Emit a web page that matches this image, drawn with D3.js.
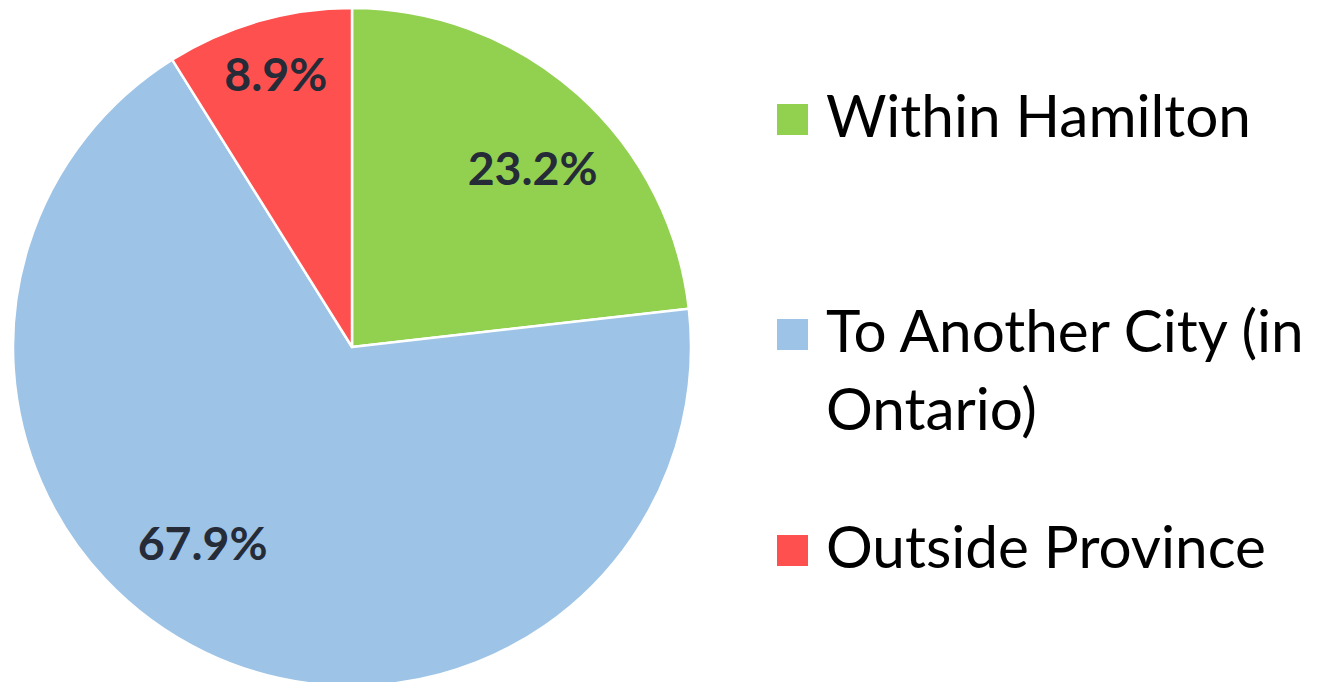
<!DOCTYPE html>
<html><head><meta charset="utf-8">
<script src="https://cdn.jsdelivr.net/npm/d3@7"></script>
<style>html,body{margin:0;padding:0;background:#fff;}svg{display:block;}</style>
</head><body>
<svg id="chart" width="1323" height="682"></svg>
<script>
const categories = ["Within Hamilton", "To Another City (in Ontario)", "Outside Province"];
const values = [23.2, 67.9, 8.9];
const labels = ["23.2%", "67.9%", "8.9%"];
const legendLines = [["Within Hamilton"], ["To Another City (in", "Ontario)"], ["Outside Province"]];
const colors = ["#92D050", "#9DC3E6", "#FF5050"];

const svg = d3.select("#chart");
const cx = 352, cy = 347, R = 339;
const fontFam = "Lato, 'Open Sans', sans-serif";

const pie = d3.pie().sort(null).value(d => d)(values);
const arc = d3.arc().innerRadius(0).outerRadius(R);
const g = svg.append("g").attr("transform", `translate(${cx},${cy})`);
g.selectAll("path").data(pie).join("path")
  .attr("d", arc)
  .attr("fill", (d, i) => colors[i])
  .attr("stroke", "#fff").attr("stroke-width", 2.5).attr("stroke-linejoin", "round");

// label placement (layout): angle offset from slice mid (deg) and radius
const labelPlace = [[3.8, 253], [11.3, 248], [0.3, 281]];
const lab = g.selectAll("text.lab").data(pie).join("text").attr("class", "lab")
  .attr("text-anchor", "middle")
  .attr("dy", "0.35em")
  .attr("font-family", fontFam).attr("font-weight", "bold")
  .attr("font-size", 44).attr("fill", "#252B37")
  .text((d, i) => labels[i])
  .attr("x", (d, i) => { const a = (d.startAngle + d.endAngle) / 2 + labelPlace[i][0] * Math.PI / 180; return Math.sin(a) * labelPlace[i][1]; })
  .attr("y", (d, i) => { const a = (d.startAngle + d.endAngle) / 2 + labelPlace[i][0] * Math.PI / 180; return -Math.cos(a) * labelPlace[i][1] - 1.5; });
// fit label size to target width of "67.9%" (~130px)
{
  const n = lab.nodes()[1];
  const w = n.getComputedTextLength();
  const fs = 44 * 130 / w;
  lab.attr("font-size", fs);
}

// legend
const legY = [104, 319, 535];
const lg = svg.append("g");
categories.forEach((c, i) => {
  lg.append("rect").attr("x", 777).attr("y", legY[i]).attr("width", 31).attr("height", 31).attr("fill", colors[i]);
  legendLines[i].forEach((ln, j) => {
    lg.append("text").attr("class", "leg")
      .attr("x", 826).attr("y", legY[i] + 33 + j * 78)
      .attr("font-family", fontFam).attr("font-size", 56).attr("fill", "#000")
      .text(ln);
  });
});
{
  const t = lg.selectAll("text.leg").nodes()[0];
  const w = t.getComputedTextLength();
  lg.selectAll("text.leg").attr("font-size", 56 * 425 / w);
}
</script>
</body></html>
